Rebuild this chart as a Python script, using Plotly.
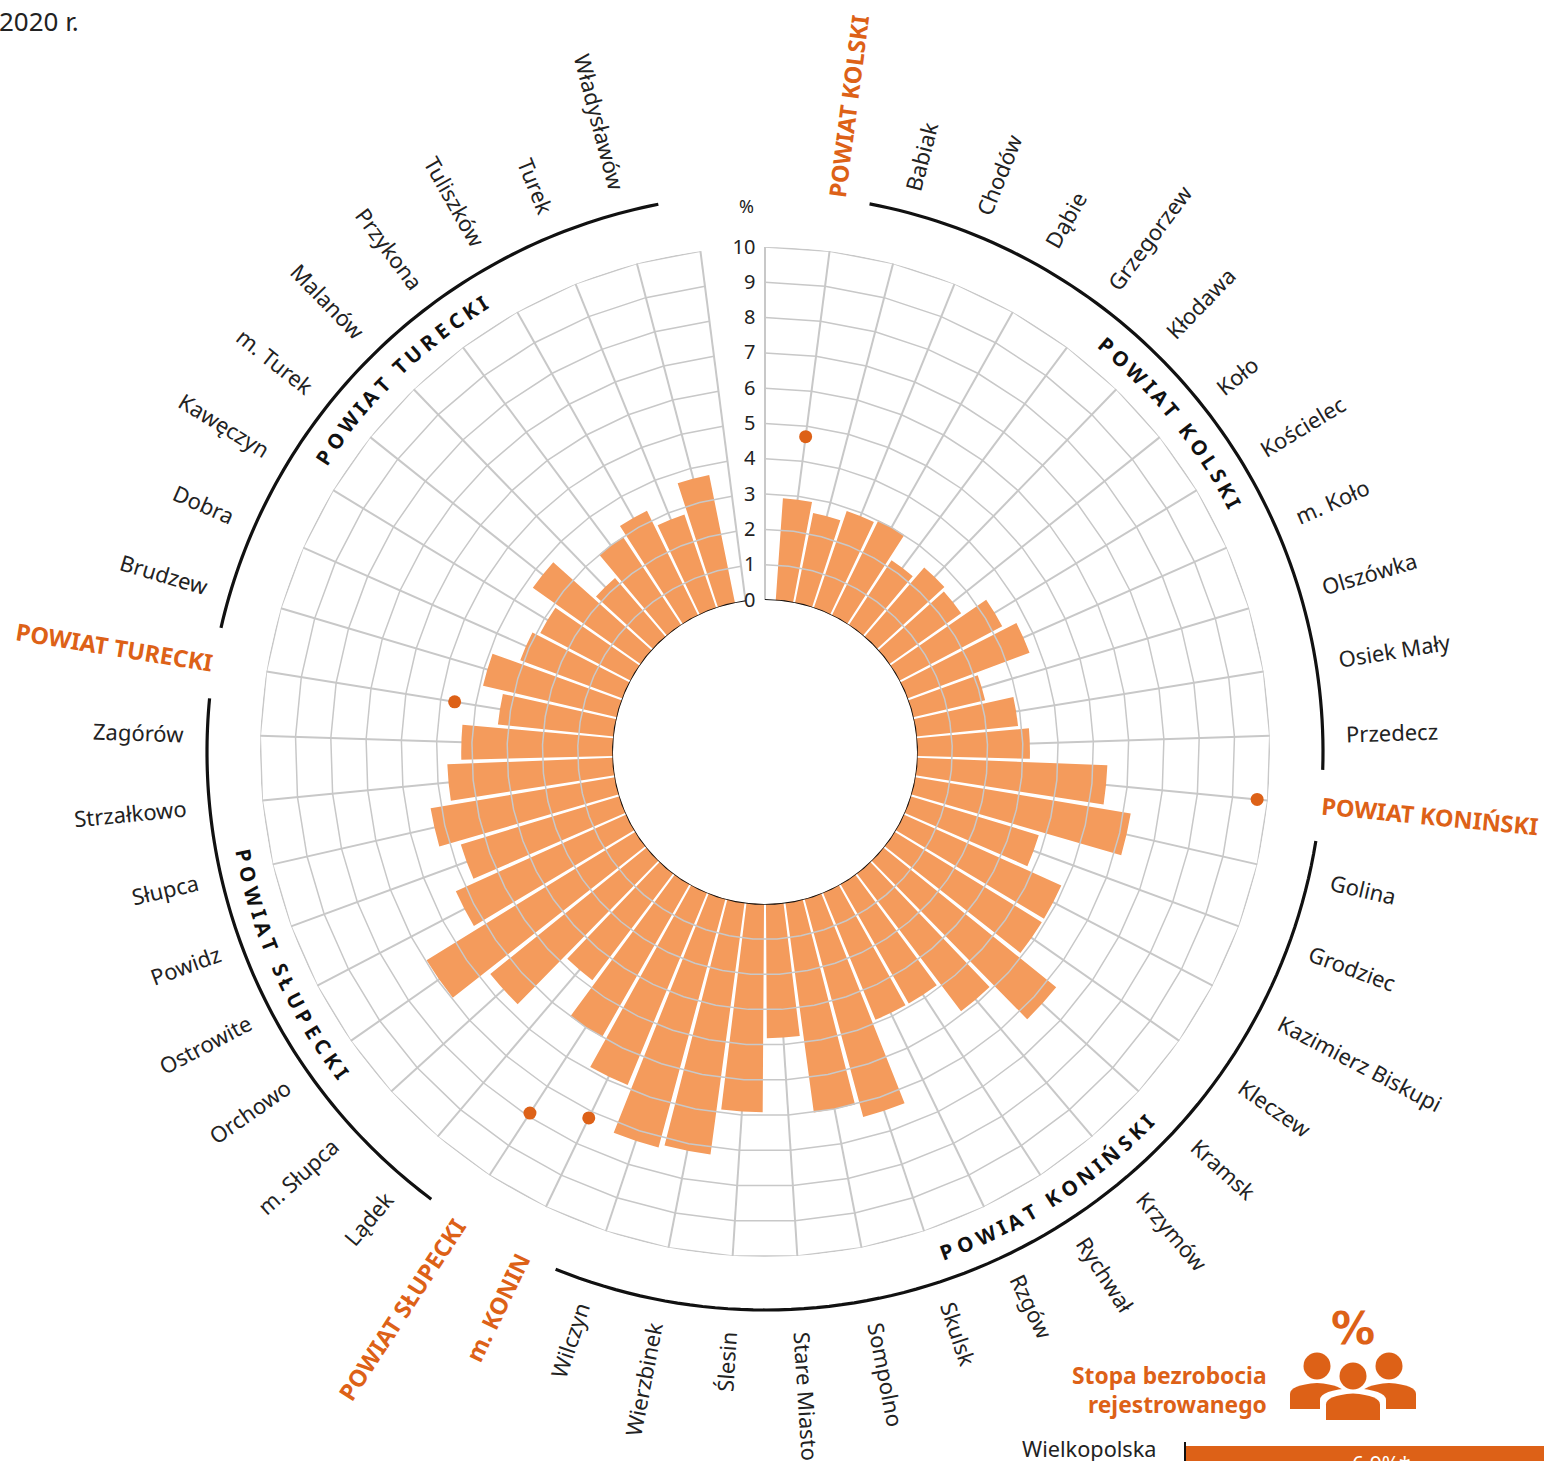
import math
import unicodedata
import numpy as np
import plotly.graph_objects as go

# ---------- data ----------
AXIS_START = "oś"
AXIS_END = "koniec"
labels = [
    "POWIAT KOLSKI", "Babiak", "Chodów", "Dąbie", "Grzegorzew", "Kłodawa", "Koło", "Kościelec",
    "m. Koło", "Olszówka", "Osiek Mały", "Przedecz",
    "POWIAT KONIŃSKI", "Golina", "Grodziec", "Kazimierz Biskupi", "Kleczew", "Kramsk", "Krzymów",
    "Rychwał", "Rzgów", "Skulsk", "Sompolno", "Stare Miasto", "Ślesin", "Wierzbinek", "Wilczyn",
    "m. KONIN",
    "POWIAT SŁUPECKI", "Lądek", "m. Słupca", "Orchowo", "Ostrowite", "Powidz", "Słupca",
    "Strzałkowo", "Zagórów",
    "POWIAT TURECKI", "Brudzew", "Dobra", "Kawęczyn", "m. Turek", "Malanów", "Przykona",
    "Tuliszków", "Turek", "Władysławów",
]
bar_values = [
    2.9, 2.6, 2.9, 3.0, 2.2, 2.6, 2.5, 3.3, 3.7, 2.1, 2.9, 3.2,
    5.4, 6.2, 3.8, 4.9, 4.9, 6.3, 4.9, 3.9, 3.9, 6.4, 6.0, 3.8, 5.9, 7.2, 7.3,
    5.9,
    5.0, 3.8, 5.7, 6.95, 5.3, 4.7, 5.3, 4.7, 4.3,
    3.3, 3.9, 3.1, 2.9, 3.75, 2.2, 3.0, 3.3, 2.8, 3.7,
]
powiat_names = ["POWIAT KOLSKI", "POWIAT KONIŃSKI", "m. KONIN", "POWIAT SŁUPECKI", "POWIAT TURECKI"]
powiat_values = [4.7, 9.7, 7.2, 7.9, 4.6]
arc_titles = ["POWIAT KOLSKI", "POWIAT KONIŃSKI", "POWIAT SŁUPECKI", "POWIAT TURECKI"]
arc_from_to = [(1.47, 12.5), (13.5, 27.5), (29.5, 37.5), (38.5, 47.5)]
arc_title_centre = [51.0, 147.0, 245.8, 315.8]
arc_title_span = [22.0, 26.0, 26.0, 24.0]
radial_ticks = list(range(0, 11))

# ---------- geometry / style ----------
W, H = 1544, 1461
CX, CY = 765.0, 752.0
R_HOLE, R_MAX, R_ARC = 152.0, 505.0, 558.0
ARC_PAD = 1.02
ORANGE = "#DD6117"
BAR = "#F49B5C"
GRID = "#C8C8C8"
INK = "#222222"
FONT = "Noto Sans"
categories = [AXIS_START] + labels + [AXIS_END]
N = len(categories)
STEP = 360.0 / N

WIDTHS = dict(a=.56, b=.615, c=.48, d=.615, e=.564, f=.344, g=.61, h=.618, i=.258, j=.258, k=.534,
              l=.258, m=.935, n=.618, o=.605, p=.615, q=.615, r=.413, s=.479, t=.361, u=.618, v=.508,
              w=.78, x=.53, y=.51, z=.47, A=.64, B=.65, C=.63, D=.73, E=.556, F=.519, G=.73, H=.74,
              I=.34, J=.27, K=.62, L=.52, M=.9, N=.76, O=.78, P=.6, R=.62, S=.55, T=.55, U=.73, W=.93, Z=.58)


def char_w(ch):
    if ch == "ł":
        return .28
    if ch == "Ł":
        return .53
    if ch == " ":
        return .26
    if ch == ".":
        return .268
    base = unicodedata.normalize("NFD", ch)[0]
    return WIDTHS.get(base, .55)


def text_w(s, size, bold=False):
    return sum(char_w(c) for c in s) * size * (1.08 if bold else 1.0)


def px(x):
    return x / W


def py(y):
    return 1 - y / H


def polar_xy(theta_deg, r):
    t = math.radians(theta_deg)
    return CX + r * math.sin(t), CY - r * math.cos(t)


annotations = []


def add_text(x, y, text, size, color=INK, angle=0, bold=False, xanchor="center", yanchor="middle", family=FONT):
    annotations.append(dict(
        xref="paper", yref="paper", x=px(x), y=py(y), text=f"<b>{text}</b>" if bold else text,
        showarrow=False, textangle=angle, xanchor=xanchor, yanchor=yanchor,
        font=dict(family=family, size=size, color=color),
    ))


# radial labels
for i, name in enumerate(labels, start=1):
    theta = i * STEP
    orange = name in powiat_names
    size = 23.5 if orange else 22
    r0 = 556 if orange else 581
    w = text_w(name, size, orange)
    x, y = polar_xy(theta, r0 + w / 2)
    angle = theta - 90 if theta < 180 else theta - 270
    add_text(x, y, name, size, ORANGE if orange else INK, angle, orange)

# curved section titles
TITLE_SIZE = 20.5
for title, centre, span in zip(arc_titles, arc_title_centre, arc_title_span):
    clockwise = centre < 90 or centre > 270
    total = math.radians(span) * 531
    ws = [char_w(c) * TITLE_SIZE * 1.08 for c in title]
    gap = (total - sum(ws) + (ws[0] + ws[-1]) / 2) / (len(title) - 1)
    pos = -total / 2
    for k, ch in enumerate(title):
        offset_deg = math.degrees(pos / 531)
        theta = centre + offset_deg if clockwise else centre - offset_deg
        if ch != " ":
            x, y = polar_xy(theta, 531)
            add_text(x, y, ch, TITLE_SIZE, "#111111", theta if clockwise else theta - 180, True)
        if k < len(title) - 1:
            pos += (ws[k] + ws[k + 1]) / 2 + gap

# other text
add_text(81, 21, "2020 r.", 26, INK, xanchor="right")
add_text(746, 206, "%", 18, INK)
add_text(1268.5, 1375, "Stopa bezrobocia", 22.8, ORANGE, bold=True, xanchor="right")
add_text(1268.5, 1404, "rejestrowanego", 22.8, ORANGE, bold=True, xanchor="right")
add_text(1353, 1328, "%", 44, ORANGE, bold=True, family="DejaVu Sans")
add_text(1157.5, 1448, "Wielkopolska", 21.7, INK, xanchor="right")
add_text(1381, 1464, "6,9%*", 21, "white")


def body(x0, x1, y_top, y_bot, shoulder):
    xm = (x0 + x1) / 2
    return ("M {:.5f},{:.5f} L {:.5f},{:.5f} Q {:.5f},{:.5f} {:.5f},{:.5f} Q {:.5f},{:.5f} {:.5f},{:.5f} "
            "L {:.5f},{:.5f} Z").format(
        px(x0), py(y_bot), px(x0), py(y_top + shoulder), px(x0), py(y_top + 2), px(xm), py(y_top),
        px(x1), py(y_top + 2), px(x1), py(y_top + shoulder), px(x1), py(y_bot))


def circle(cx, cy, r, fill):
    return dict(type="circle", xref="paper", yref="paper", x0=px(cx - r), x1=px(cx + r), y0=py(cy - r),
                y1=py(cy + r), fillcolor=fill, line=dict(width=0), layer="above")


shapes = [
    dict(type="rect", xref="paper", yref="paper", x0=px(1185), x1=px(1544), y0=py(1446), y1=py(1461),
         fillcolor=ORANGE, line=dict(width=0), layer="below"),
    dict(type="line", xref="paper", yref="paper", x0=px(1185), x1=px(1185), y0=py(1442), y1=py(1461),
         line=dict(color="#111111", width=2)),
    circle(1317, 1366, 13.5, ORANGE), circle(1389, 1366, 13.5, ORANGE),
    dict(type="path", xref="paper", yref="paper", path=body(1290, 1344, 1383, 1409, 11),
         fillcolor=ORANGE, line=dict(width=0), layer="above"),
    dict(type="path", xref="paper", yref="paper", path=body(1362, 1416, 1383, 1409, 11),
         fillcolor=ORANGE, line=dict(width=0), layer="above"),
    dict(type="path", xref="paper", yref="paper", path=body(1320, 1386, 1388, 1425, 12),
         fillcolor="white", line=dict(width=0), layer="above"),
    dict(type="path", xref="paper", yref="paper", path=body(1326, 1380, 1393.5, 1420, 11),
         fillcolor=ORANGE, line=dict(width=0), layer="above"),
    circle(1353, 1376, 13.5, ORANGE),
]

fig = go.Figure()
fig.add_trace(go.Barpolar(
    r=bar_values, theta=labels, width=0.9, base=0,
    marker=dict(color=BAR, line=dict(width=0)), showlegend=False, subplot="polar",
))
for v in radial_ticks[1:]:
    fig.add_trace(go.Scatterpolar(
        r=[v] * N, theta=categories, mode="lines", line=dict(color=GRID, width=1.5),
        showlegend=False, hoverinfo="skip", subplot="polar",
    ))
fig.add_trace(go.Scatterpolar(
    r=[0] * N, theta=categories, mode="lines", line=dict(color="#111111", width=2),
    showlegend=False, hoverinfo="skip", subplot="polar", cliponaxis=False,
))
fig.add_trace(go.Scatterpolar(
    r=powiat_values, theta=powiat_names, mode="markers",
    marker=dict(color=ORANGE, size=13), showlegend=False, subplot="polar", cliponaxis=False,
))
for a, b in arc_from_to:
    th = np.linspace(a * STEP, b * STEP, 80)
    fig.add_trace(go.Scatterpolar(
        r=[1] * len(th), theta=th, mode="lines", line=dict(color="#111111", width=3.2),
        showlegend=False, hoverinfo="skip", subplot="polar2", cliponaxis=False,
    ))

R_OUT = R_ARC * ARC_PAD
fig.update_layout(
    width=W, height=H, margin=dict(l=0, r=0, t=0, b=0, pad=0), paper_bgcolor="white",
    font=dict(family=FONT, color=INK), showlegend=False,
    annotations=annotations, shapes=shapes,
    polar=dict(
        domain=dict(x=[px(CX - R_MAX), px(CX + R_MAX)], y=[py(CY + R_MAX), py(CY - R_MAX)]),
        hole=R_HOLE / R_MAX, bgcolor="rgba(0,0,0,0)",
        radialaxis=dict(range=[0, 10], tickvals=radial_ticks, angle=90, tickangle=90, side="counterclockwise",
                        showgrid=False, showline=False, ticks="outside", ticklen=2, tickcolor="rgba(0,0,0,0)",
                        tickfont=dict(size=20, color=INK, family=FONT)),
        angularaxis=dict(type="category", categoryorder="array", categoryarray=categories, rotation=90,
                         direction="clockwise", showticklabels=False, ticks="", showline=False,
                         showgrid=True, gridcolor=GRID, gridwidth=1.5),
    ),
    polar2=dict(
        domain=dict(x=[px(CX - R_OUT), px(CX + R_OUT)], y=[py(CY + R_OUT), py(CY - R_OUT)]),
        bgcolor="rgba(0,0,0,0)",
        radialaxis=dict(range=[0, ARC_PAD], visible=False),
        angularaxis=dict(type="linear", thetaunit="degrees", rotation=90, direction="clockwise", visible=False),
    ),
)

fig.write_html(
    "out.html", config={"displayModeBar": False},
    post_script=(
        "document.body.style.margin='0';document.body.style.overflow='hidden';"
        "document.querySelectorAll('.crisp').forEach(function(p){p.style.shapeRendering='geometricPrecision';});"
    ),
)
